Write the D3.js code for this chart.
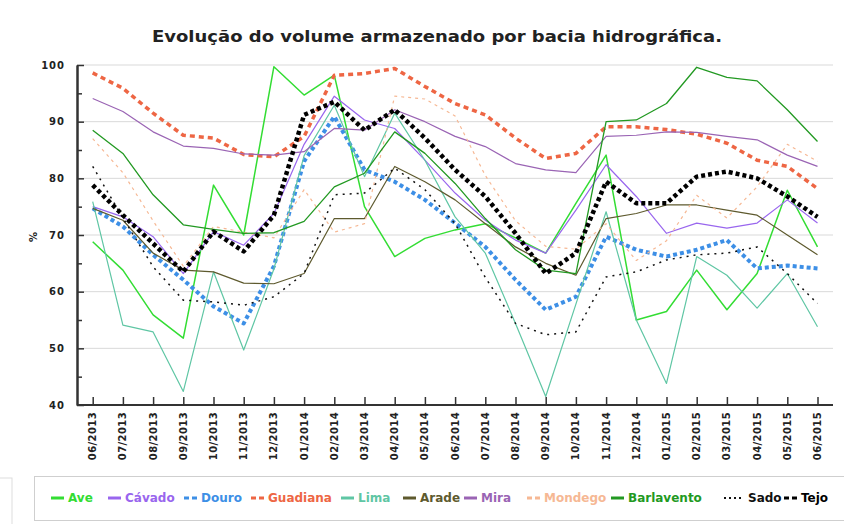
<!DOCTYPE html>
<html>
<head>
<meta charset="utf-8">
<script src="https://cdn.jsdelivr.net/npm/d3@7"></script>
<style>
  body { margin: 0; background: #fff; }
  svg { display: block; }
  text { font-family: "DejaVu Sans", Verdana, sans-serif; }
</style>
</head>
<body>
<script>
// data (% of storage)
const months = ["06/2013","07/2013","08/2013","09/2013","10/2013","11/2013","12/2013",
  "01/2014","02/2014","03/2014","04/2014","05/2014","06/2014","07/2014","08/2014","09/2014",
  "10/2014","11/2014","12/2014","01/2015","02/2015","03/2015","04/2015","05/2015","06/2015"]

const ave = [68.8, 63.8, 55.9, 51.8, 78.8, 70.0, 99.7, 94.7, 98.2, 75.0, 66.2, 69.4, 70.9,
  72.0, 69.5, 66.8, 75.6, 84.1, 55.0, 56.5, 63.8, 56.8, 63.2, 77.9, 67.9]
const cavado = [75.0, 73.2, 69.7, 63.2, 70.6, 68.2, 73.8, 86.0, 94.5, 90.3, 88.8, 83.2, 77.4,
  72.6, 69.1, 66.8, 74.4, 82.4, 76.8, 70.3, 72.1, 71.2, 72.1, 76.2, 72.1]
const douro = [74.7, 71.5, 66.5, 62.1, 57.4, 54.4, 64.5, 83.0, 90.9, 81.5, 79.4, 76.2, 72.1,
  67.9, 62.1, 56.8, 59.1, 69.7, 67.4, 66.2, 67.4, 69.1, 64.1, 64.6, 64.1]
const guadiana = [98.6, 95.9, 91.5, 87.6, 87.1, 84.2, 83.8, 87.4, 98.2, 98.5, 99.4, 96.2, 93.2,
  91.2, 87.1, 83.5, 84.4, 89.1, 89.1, 88.6, 87.8, 86.2, 83.2, 82.1, 78.2]
const lima = [75.9, 54.1, 52.9, 42.4, 63.5, 49.7, 64.0, 84.0, 92.9, 80.3, 91.5, 83.2, 73.2,
  66.8, 54.4, 41.5, 57.8, 74.1, 55.0, 43.8, 66.2, 62.9, 57.1, 63.2, 53.8]
const arade = [74.7, 72.6, 66.8, 63.8, 63.5, 61.5, 61.4, 63.2, 72.9, 72.9, 82.1, 79.4, 76.2,
  72.0, 67.9, 65.0, 62.9, 72.9, 73.8, 75.3, 75.3, 74.4, 73.5, 70.0, 66.5]
const mira = [94.1, 91.8, 88.2, 85.7, 85.3, 84.3, 84.1, 84.7, 88.8, 88.5, 92.1, 90.0, 87.4,
  85.6, 82.6, 81.5, 81.0, 87.4, 87.6, 88.2, 88.1, 87.4, 86.8, 84.1, 82.1]
const mondego = [87.0, 81.0, 72.5, 64.5, 71.5, 70.5, 69.5, 78.0, 70.5, 72.0, 94.5, 94.0, 91.0,
  80.5, 72.5, 68.0, 67.5, 72.0, 65.5, 69.0, 77.0, 73.0, 78.5, 86.0, 83.0]
const barlavento = [88.5, 84.4, 77.1, 71.8, 71.0, 70.3, 70.4, 72.4, 78.5, 80.9, 88.2, 84.4, 79.1,
  72.9, 67.4, 63.8, 63.2, 90.0, 90.3, 93.2, 99.6, 97.8, 97.2, 92.1, 86.5]
const sado = [82.1, 73.0, 64.4, 58.5, 58.2, 57.6, 59.1, 63.2, 77.1, 77.4, 81.8, 78.0, 72.0,
  62.5, 54.4, 52.4, 52.9, 62.6, 63.5, 65.6, 66.5, 66.8, 67.9, 63.2, 57.9]
const tejo = [78.8, 73.5, 68.5, 63.5, 70.6, 67.1, 73.5, 91.2, 93.5, 88.5, 92.1, 87.1, 81.5,
  76.8, 70.3, 63.2, 66.8, 79.4, 75.6, 75.6, 80.3, 81.2, 80.0, 76.8, 73.2]

const names = ["Ave","Cávado","Douro","Guadiana","Lima","Arade","Mira","Mondego","Barlavento","Sado","Tejo"]
const values = [ave, cavado, douro, guadiana, lima, arade, mira, mondego, barlavento, sado, tejo]
const yTicks = [40, 50, 60, 70, 80, 90, 100]
const yMinor = [45, 55, 65, 75, 85, 95]

// styles per series
const styles = [
  { color: "#33dd33", width: 1.5, dash: null },
  { color: "#9966ee", width: 1.2, dash: null },
  { color: "#3d8fe6", width: 4, dash: "4,3" },
  { color: "#ee6644", width: 3.5, dash: "5,4" },
  { color: "#5fc6a4", width: 1.2, dash: null },
  { color: "#5e5a2e", width: 1.2, dash: null },
  { color: "#9a64b4", width: 1.2, dash: null },
  { color: "#f6b894", width: 1.2, dash: "3,4" },
  { color: "#229922", width: 1.3, dash: null },
  { color: "#111111", width: 1.5, dash: "2,5" },
  { color: "#000000", width: 4.5, dash: "4,3" }
]

const W = 844, H = 524
const svg = d3.select("body").append("svg").attr("width", W).attr("height", H)

const x = d3.scalePoint().domain(months).range([92.7, 817.5])
const y = d3.scaleLinear().domain([40, 100]).range([405, 65])
const left = 77, right = 833

// title
svg.append("text")
    .attr("x", 437).attr("y", 42)
    .attr("text-anchor", "middle")
    .attr("font-size", 16).attr("font-weight", "bold")
    .attr("fill", "#222")
    .attr("textLength", 570).attr("lengthAdjust", "spacingAndGlyphs")
    .text("Evolução do volume armazenado por bacia hidrográfica.")

// grid
svg.append("g").selectAll("line")
    .data(yTicks.filter(d => d > 40))
    .join("line")
    .attr("x1", left).attr("x2", right)
    .attr("y1", d => y(d)).attr("y2", d => y(d))
    .attr("stroke", "#d9d9d9").attr("stroke-width", 1)

// series
const line = d3.line().x((d, i) => x(months[i])).y(d => y(d))
svg.append("g").selectAll("path")
    .data(values)
    .join("path")
    .attr("d", d => line(d))
    .attr("fill", "none")
    .attr("stroke", (d, i) => styles[i].color)
    .attr("stroke-width", (d, i) => styles[i].width)
    .attr("stroke-dasharray", (d, i) => styles[i].dash)
    .attr("stroke-linejoin", "round")

// y axis
const yAxis = svg.append("g").attr("transform", `translate(${left},0)`)
    .call(d3.axisLeft(y).tickValues(yTicks).tickSizeInner(-7).tickSizeOuter(0).tickPadding(12))
yAxis.append("g")
    .call(d3.axisLeft(y).tickValues(yMinor).tickSizeInner(-5).tickSizeOuter(0).tickFormat(""))
yAxis.selectAll("path").attr("stroke", "#333").attr("stroke-width", 2)
yAxis.selectAll("line").attr("stroke", "#333").attr("stroke-width", 1.5)
yAxis.selectAll("text")
    .attr("font-family", "'DejaVu Sans Mono', monospace")
    .attr("font-size", 10).attr("font-weight", "bold")
    .attr("letter-spacing", 1).attr("fill", "#222")

// x axis
const xAxis = svg.append("g").attr("transform", "translate(0,405)")
    .call(d3.axisBottom(x).tickSizeInner(-8).tickSizeOuter(0).tickFormat(""))
xAxis.select("path").attr("d", `M${left},0H${right}`).attr("stroke", "#333").attr("stroke-width", 2)
xAxis.selectAll("line").attr("stroke", "#333").attr("stroke-width", 1.5)

svg.append("g").selectAll("text")
    .data(months)
    .join("text")
    .attr("transform", d => `translate(${x(d)},412) rotate(-90)`)
    .attr("text-anchor", "end")
    .attr("dy", "0.35em")
    .attr("font-family", "'DejaVu Sans Mono', monospace")
    .attr("font-size", 10).attr("font-weight", "bold")
    .attr("letter-spacing", 0.4).attr("fill", "#222")
    .text(d => d)

// % label
svg.append("text")
    .attr("transform", "translate(33,237) rotate(-90)")
    .attr("text-anchor", "middle").attr("dy", "0.35em")
    .attr("font-size", 10).attr("font-weight", "bold").attr("fill", "#222")
    .text("%")

// faint box at bottom left
svg.append("rect")
    .attr("x", -5).attr("y", 478).attr("width", 17).attr("height", 60)
    .attr("fill", "none").attr("stroke", "#ddd")

// legend
svg.append("rect")
    .attr("x", 34.5).attr("y", 476.5).attr("width", 830).attr("height", 44)
    .attr("fill", "#fff").attr("stroke", "#cfcfcf")

const legendX = [51, 108, 184, 251, 341, 403, 464, 527, 611, 724, 784]
const sampleLen = [13, 13, 13, 13, 13, 13, 13, 13, 13, 20, 13]
const lg = svg.append("g").selectAll("g")
    .data(names)
    .join("g")
    .attr("transform", (d, i) => `translate(${legendX[i]},498)`)
lg.append("line")
    .attr("x1", 0).attr("x2", (d, i) => sampleLen[i])
    .attr("stroke", (d, i) => styles[i].color)
    .attr("stroke-width", (d, i) => i == 9 ? 2 : 3)
    .attr("stroke-dasharray", (d, i) => styles[i].dash ? (i == 9 ? "2,3" : "5,3") : null)
lg.append("text")
    .attr("x", (d, i) => sampleLen[i] + 4).attr("dy", "0.35em")
    .attr("font-size", 12).attr("font-weight", "bold")
    .attr("fill", (d, i) => styles[i].color)
    .text(d => d)
</script>
</body>
</html>
